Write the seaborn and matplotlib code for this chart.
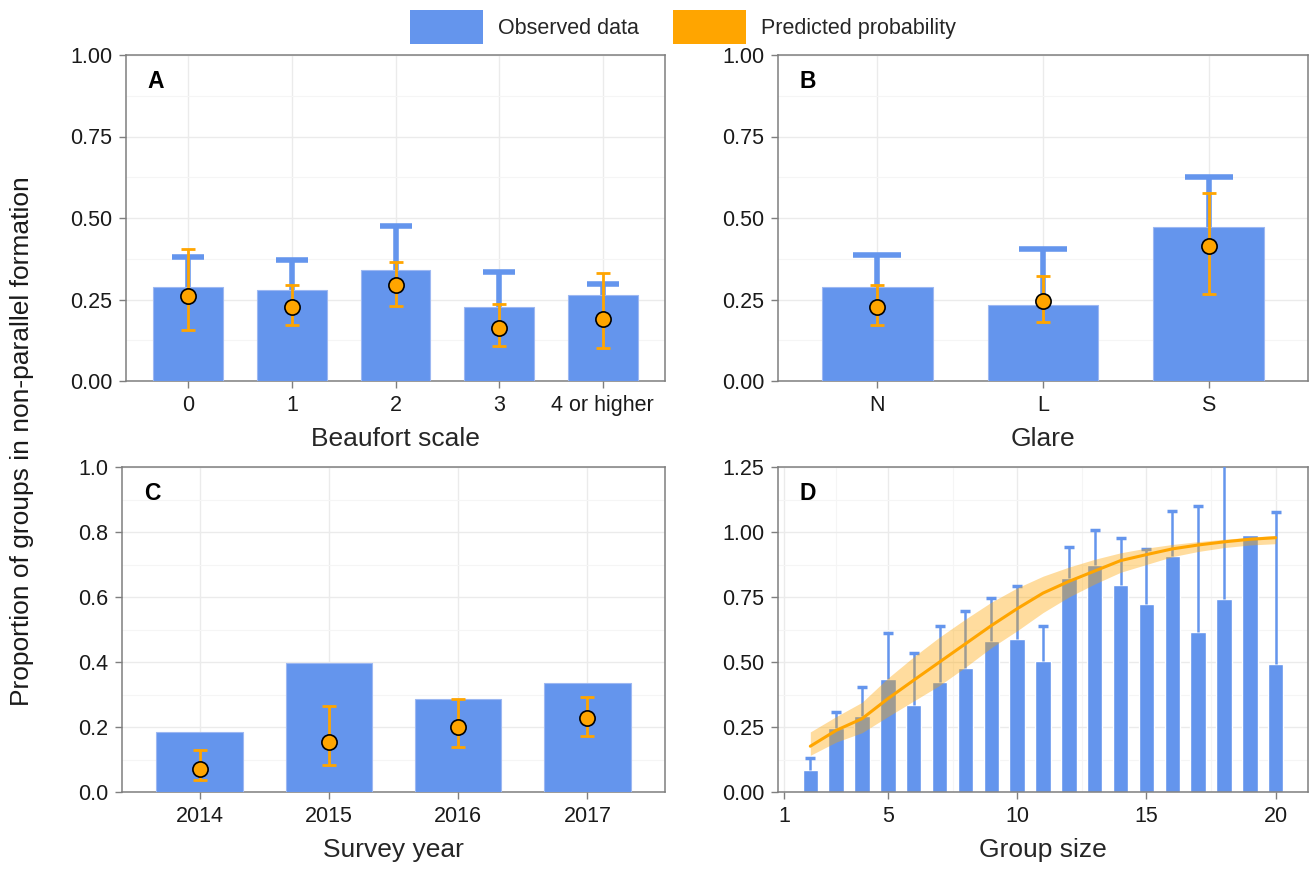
import numpy as np
import pandas as pd
import matplotlib
matplotlib.use("Agg")
import matplotlib.pyplot as plt
from matplotlib.patches import Patch
import seaborn as sns

# -----------------------------
# Data
# -----------------------------
beaufort_labels = ["0", "1", "2", "3", "4 or higher"]
beaufort_obs = [0.287, 0.280, 0.342, 0.227, 0.264]
beaufort_obs_upper = [0.379, 0.372, 0.476, 0.335, 0.299]
beaufort_pred = [0.262, 0.227, 0.294, 0.162, 0.191]
beaufort_pred_lo = [0.156, 0.171, 0.231, 0.108, 0.102]
beaufort_pred_hi = [0.406, 0.294, 0.364, 0.237, 0.330]

glare_labels = ["N", "L", "S"]
glare_obs = [0.287, 0.234, 0.472]
glare_obs_upper = [0.387, 0.404, 0.626]
glare_pred = [0.226, 0.244, 0.414]
glare_pred_lo = [0.171, 0.180, 0.267]
glare_pred_hi = [0.293, 0.322, 0.578]

year_labels = ["2014", "2015", "2016", "2017"]
year_obs = [0.186, 0.396, 0.287, 0.336]
year_pred = [0.071, 0.153, 0.201, 0.227]
year_pred_lo = [0.037, 0.082, 0.138, 0.172]
year_pred_hi = [0.129, 0.265, 0.287, 0.293]

group_size = [2, 3, 4, 5, 6, 7, 8, 9, 10, 11, 12, 13, 14, 15, 16, 17, 18, 19, 20]
group_obs = [0.083, 0.247, 0.291, 0.435, 0.336, 0.422, 0.477, 0.582, 0.588, 0.504,
             0.823, 0.874, 0.797, 0.722, 0.908, 0.615, 0.741, 0.990, 0.492]
group_obs_upper = [0.132, 0.308, 0.403, 0.610, 0.535, 0.637, 0.697, 0.745, 0.791, 0.637,
                   0.944, 1.006, 0.978, 0.936, 1.081, 1.101, 1.320, np.nan, 1.077]
group_pred = [0.176, 0.237, 0.282, 0.359, 0.430, 0.500, 0.570, 0.640, 0.705, 0.765,
              0.810, 0.850, 0.890, 0.913, 0.935, 0.950, 0.962, 0.972, 0.978]
group_pred_lo = [0.141, 0.192, 0.228, 0.290, 0.350, 0.410, 0.480, 0.555, 0.620, 0.690,
                 0.750, 0.800, 0.845, 0.875, 0.905, 0.925, 0.940, 0.950, 0.955]
group_pred_hi = [0.231, 0.290, 0.345, 0.438, 0.520, 0.596, 0.665, 0.730, 0.785, 0.830,
                 0.865, 0.895, 0.920, 0.938, 0.952, 0.963, 0.972, 0.980, 0.987]

BLUE = "#6495ED"
ORANGE = "#FFA500"
SPINE = "#7F7F7F"

sns.set_theme(style="white")
plt.rcParams["font.family"] = ["Liberation Sans", "DejaVu Sans"]

W, H = 1310, 874
fig = plt.figure(figsize=(W / 100, H / 100), dpi=100)


def box(l, t, r, b):
    return [l / W, 1 - b / H, (r - l) / W, (b - t) / H]


ax_a = fig.add_axes(box(126, 55, 665, 381))
ax_b = fig.add_axes(box(778, 55, 1308, 381))
ax_c = fig.add_axes(box(122, 467, 665, 792))
ax_d = fig.add_axes(box(778, 467, 1308, 792))


# -----------------------------
# Helpers
# -----------------------------
def style_axes(ax, yticks, yminor, xminor=None, fmt="{:.2f}"):
    for s in ax.spines.values():
        s.set_visible(True)
        s.set_color(SPINE)
        s.set_linewidth(1.1)
    ax.set_yticks(yticks)
    ax.set_yticklabels([fmt.format(v) for v in yticks])
    ax.set_yticks(yminor, minor=True)
    if xminor is not None:
        ax.set_xticks(xminor, minor=True)
    ax.grid(True, which="major", color="#EBEBEB", lw=1.0)
    ax.grid(True, which="minor", color="#F5F5F5", lw=0.8)
    ax.set_axisbelow(True)
    ax.tick_params(axis="both", which="major", direction="out", length=5, width=1,
                   color=SPINE, labelsize=15.5, labelcolor="#1a1a1a", pad=5,
                   bottom=True, left=True)
    ax.tick_params(axis="both", which="minor", length=0)


def obs_bars(ax, labels, values, upper=None, capsize=11):
    df = pd.DataFrame({"cat": labels, "val": values})
    sns.barplot(data=df, x="cat", y="val", color=BLUE, saturation=1, width=0.67,
                ax=ax, zorder=3, edgecolor="#9DB8F2", linewidth=0.8)
    if upper is not None:
        x = np.arange(len(labels))
        err = np.array(upper) - np.array(values)
        _, caps, _ = ax.errorbar(x, values, yerr=[np.zeros(len(x)), err], fmt="none",
                                 ecolor=BLUE, elinewidth=4, capsize=capsize,
                                 capthick=4, zorder=2)
        caps[0].set_visible(False)


def pred_points(ax, pred, lo, hi):
    x = np.arange(len(pred))
    p = np.array(pred)
    ax.errorbar(x, p, yerr=[p - np.array(lo), np.array(hi) - p], fmt="none",
                ecolor=ORANGE, elinewidth=2, capsize=5, capthick=2, zorder=4)
    sns.scatterplot(x=x, y=p, ax=ax, color=ORANGE, edgecolor="black",
                    linewidth=1.2, s=120, zorder=5)


def panel_letter(ax, letter):
    ax.text(0.04, 0.955, letter, transform=ax.transAxes, fontsize=16.5,
            fontweight="bold", va="top", ha="left", color="black")


# -----------------------------
# Panel A - Beaufort scale
# -----------------------------
obs_bars(ax_a, beaufort_labels, beaufort_obs, beaufort_obs_upper, capsize=11.5)
pred_points(ax_a, beaufort_pred, beaufort_pred_lo, beaufort_pred_hi)
ax_a.set_xlim(-0.6, 4.6)
ax_a.set_ylim(0, 1)
style_axes(ax_a, [0, 0.25, 0.5, 0.75, 1.0], [0.125, 0.375, 0.625, 0.875])
ax_a.set_xlabel("Beaufort scale", fontsize=19, labelpad=8)
ax_a.set_ylabel("")
panel_letter(ax_a, "A")

# -----------------------------
# Panel B - Glare
# -----------------------------
obs_bars(ax_b, glare_labels, glare_obs, glare_obs_upper, capsize=17.5)
pred_points(ax_b, glare_pred, glare_pred_lo, glare_pred_hi)
ax_b.set_xlim(-0.6, 2.6)
ax_b.set_ylim(0, 1)
style_axes(ax_b, [0, 0.25, 0.5, 0.75, 1.0], [0.125, 0.375, 0.625, 0.875])
ax_b.set_xlabel("Glare", fontsize=19, labelpad=8)
ax_b.set_ylabel("")
panel_letter(ax_b, "B")

# -----------------------------
# Panel C - Survey year
# -----------------------------
obs_bars(ax_c, year_labels, year_obs)
pred_points(ax_c, year_pred, year_pred_lo, year_pred_hi)
ax_c.set_xlim(-0.6, 3.6)
ax_c.set_ylim(0, 1)
style_axes(ax_c, [0, 0.2, 0.4, 0.6, 0.8, 1.0], [0.1, 0.3, 0.5, 0.7, 0.9], fmt="{:.1f}")
ax_c.set_xlabel("Survey year", fontsize=19, labelpad=8)
ax_c.set_ylabel("")
panel_letter(ax_c, "C")

# -----------------------------
# Panel D - Group size
# -----------------------------
df_d = pd.DataFrame({"size": group_size, "obs": group_obs})
sns.barplot(data=df_d, x="size", y="obs", native_scale=True, color=BLUE,
            saturation=1, width=0.6, ax=ax_d, zorder=2)
gs = np.array(group_size, dtype=float)
go = np.array(group_obs)
up_err = np.array(group_obs_upper) - go
_, caps_d, _ = ax_d.errorbar(gs, go, yerr=[np.zeros(len(gs)), up_err], fmt="none",
                             ecolor=BLUE, elinewidth=1.8, capsize=3.5, capthick=2.5,
                             zorder=3)
caps_d[0].set_visible(False)
ax_d.fill_between(gs, group_pred_lo, group_pred_hi, color=ORANGE, alpha=0.38,
                  lw=0, zorder=4)
sns.lineplot(x=gs, y=group_pred, ax=ax_d, color=ORANGE, lw=2.2, zorder=5)
ax_d.set_xlim(0.75, 21.25)
ax_d.set_ylim(0, 1.25)
ax_d.set_xticks([1, 5, 10, 15, 20])
ax_d.set_xticklabels(["1", "5", "10", "15", "20"])
style_axes(ax_d, [0, 0.25, 0.5, 0.75, 1.0, 1.25], [0.125, 0.375, 0.625, 0.875, 1.125],
           xminor=[3, 7.5, 12.5, 17.5])
ax_d.set_xlabel("Group size", fontsize=19, labelpad=8)
ax_d.set_ylabel("")
panel_letter(ax_d, "D")

# -----------------------------
# Shared label and legend
# -----------------------------
fig.text(22 / W, 1 - 441 / H, "Proportion of groups in non-parallel formation",
         rotation=90, fontsize=19, va="center", ha="center", color="#1a1a1a")

handles = [Patch(facecolor=BLUE, edgecolor="none", label="Observed data"),
           Patch(facecolor=ORANGE, edgecolor="none", label="Predicted probability")]
fig.legend(handles=handles, loc="center", bbox_to_anchor=(683 / W, 1 - 27 / H),
           ncol=2, frameon=False, fontsize=15.5, handlelength=3.4, handleheight=2.0,
           handletextpad=0.7, columnspacing=1.6)

fig.savefig("out.png", dpi=100)
